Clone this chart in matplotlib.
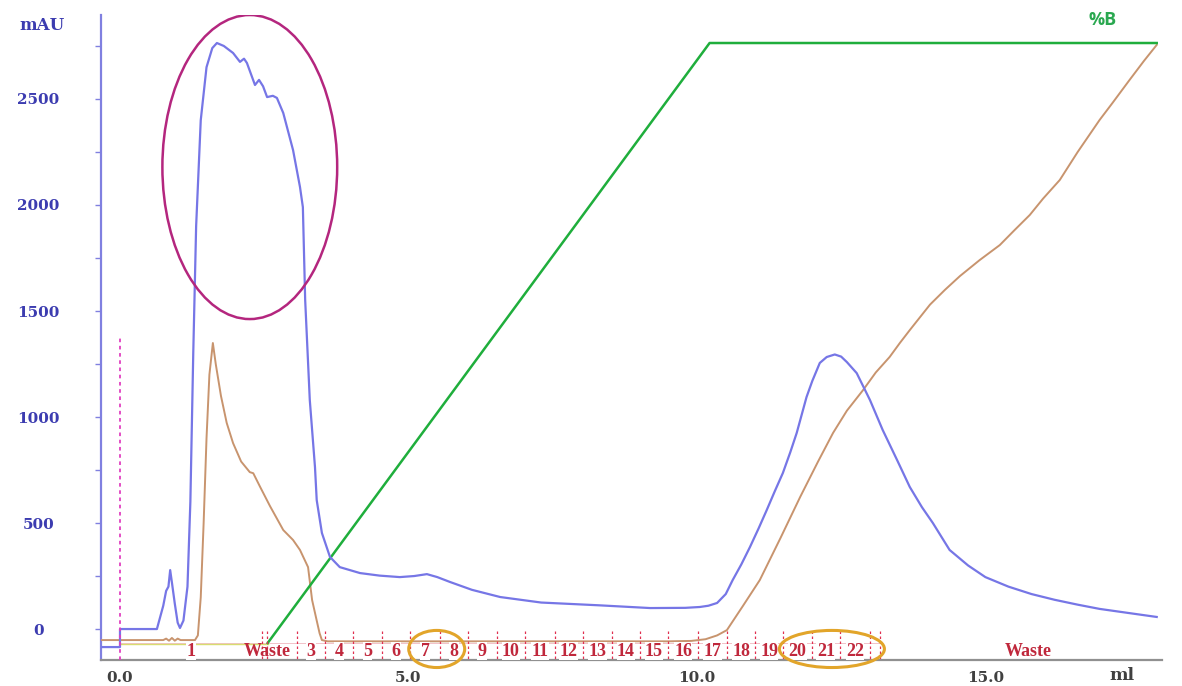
import matplotlib.pyplot as plt
from matplotlib.patches import Ellipse
from matplotlib.ticker import MultipleLocator
import numpy as np

# UV 280 nm trace (ml, mAU)
uv_ml = [-0.33, 0.0, 0.0, 0.64, 0.70, 0.75, 0.80, 0.84, 0.87, 0.90, 0.95, 1.00, 1.04, 1.10,
         1.17, 1.22, 1.27, 1.32, 1.40, 1.50, 1.60, 1.68, 1.80, 1.96, 2.08, 2.15, 2.20, 2.34,
         2.41, 2.48, 2.55, 2.65, 2.72, 2.83, 3.00, 3.12, 3.17, 3.21, 3.29, 3.38, 3.41, 3.50,
         3.64, 3.81, 4.16, 4.50, 4.85, 5.10, 5.32, 5.50, 5.72, 6.10, 6.59,
         7.30, 8.30, 9.19, 9.80, 10.05, 10.20, 10.35, 10.50, 10.62, 10.77, 10.92, 11.07, 11.21,
         11.35, 11.49, 11.62, 11.73, 11.90, 12.00, 12.13, 12.25, 12.39, 12.50, 12.60, 12.77,
         13.00, 13.22, 13.47, 13.69, 13.90, 14.09, 14.38, 14.70, 15.00, 15.40, 15.80, 16.20,
         16.60, 16.98, 17.50, 17.97]
uv_mau = [-85, -85, 0, 0, 60, 110, 180, 200, 278, 220, 120, 30, 5, 40,
          200, 600, 1300, 1900, 2400, 2650, 2740, 2764, 2750, 2717, 2675, 2690, 2670, 2566,
          2590, 2560, 2509, 2515, 2505, 2434, 2259, 2085, 1990, 1552, 1080, 764, 608, 453,
          340, 292, 264, 252, 245, 250, 259, 245, 222, 185, 151,
          125, 112, 99, 100, 104, 110, 123, 165, 231, 305, 387, 475, 561,
          650, 736, 835, 925, 1094, 1170, 1255, 1283, 1295, 1285, 1259, 1207,
          1080, 939, 797, 670, 575, 500, 373, 300, 245, 200, 165, 138,
          115, 95, 75, 57]

# conductivity trace, drawn on the same scale
cond_ml = [-0.33, 0.75, 0.80, 0.85, 0.90, 0.95, 1.00, 1.05, 1.30, 1.35, 1.40, 1.45, 1.50, 1.55,
           1.61, 1.66, 1.75, 1.85, 1.96, 2.10, 2.25, 2.31, 2.43, 2.60, 2.83, 3.00, 3.12,
           3.26, 3.33, 3.41, 3.46, 3.50, 3.60, 9.50, 9.90, 10.15, 10.35, 10.52, 10.80, 11.09,
           11.45, 11.79, 12.10, 12.36, 12.60, 12.88, 13.10, 13.34, 13.52, 13.69, 14.04,
           14.30, 14.56, 14.90, 15.25, 15.50, 15.77, 16.00, 16.29, 16.60, 16.98, 17.20,
           17.50, 17.75, 17.97]
cond_mau = [-52, -52, -45, -55, -42, -55, -45, -52, -52, -30, 150, 500, 900, 1200,
            1349, 1250, 1100, 972, 877, 790, 740, 735, 670, 580, 467, 420, 373,
            292, 137, 40, -20, -52, -58, -58, -56, -48, -30, -5, 110, 231,
            430, 623, 790, 925, 1030, 1127, 1210, 1283, 1350, 1410, 1530,
            1600, 1665, 1740, 1811, 1880, 1953, 2030, 2118, 2250, 2401, 2480,
            2590, 2680, 2755]

# gradient %B
grad_ml = [2.56, 10.22, 17.97]
grad_mau = [-66, 2764, 2764]

# fractions
frac_edges = [0.0, 2.46, 3.07, 3.55, 4.04, 4.54, 5.03, 5.55, 6.03, 6.53, 7.02, 7.54, 8.02,
              8.53, 9.01, 9.50, 10.02, 10.52, 11.01, 11.49, 11.99, 12.48, 13.00, 18.50]
frac_labels = ['1', 'Waste'] + [str(i) for i in range(3, 23)] + ['Waste']
extra_ticks = [2.55, 13.17]

serif = ['DejaVu Serif']
frac_font = ['Liberation Serif', 'DejaVu Serif']

fig = plt.figure(figsize=(11.82, 6.86), dpi=100)
ax = fig.add_axes([0.0854, 0.0379, 0.8976, 0.9402])
ax.set_xlim(-0.33, 18.06)
ax.set_ylim(-146, 2896)

ax.plot(uv_ml, uv_mau, color='#7676e6', lw=1.6, zorder=4)
ax.plot(cond_ml, cond_mau, color='#c8946e', lw=1.4, zorder=3)
ax.plot(grad_ml, grad_mau, color='#1fae3c', lw=1.8, zorder=3)
ax.plot([0.0, 2.56], [-72, -72], color='#d8dc70', lw=1.0, zorder=2)
fig.text(1103 / 1182, 1 - 20 / 686, '%B', color='#2aa850', fontsize=13, fontweight='bold',
         ha='center', va='center', family=['Open Sans', 'DejaVu Sans'])

# injection mark
ax.plot([0.0, 0.0], [-146, 1373], color='#e040c0', lw=1.3, ls=(0, (2, 2)), zorder=5)

# fraction ticks and labels
for x in frac_edges[1:-1] + extra_ticks:
    ax.plot([x, x], [-10, -146], color='#e03050', lw=0.9, ls=(0, (2, 2)), zorder=5)
ax.plot([0.0, 13.17], [-68, -68], color='#f0b8c0', lw=0.6, zorder=1)
for i, lab in enumerate(frac_labels):
    xm = (frac_edges[i] + frac_edges[i + 1]) / 2
    if lab == 'Waste' and i == 1:
        xm = 2.55
    ax.text(xm, -104, lab, color='#c0283c', fontsize=13, fontweight='bold',
            ha='center', va='center', family=frac_font, zorder=6,
            bbox=dict(facecolor='white', edgecolor='none', pad=0.3) if lab != 'Waste' else None)

# highlighted regions
ax.add_patch(Ellipse((2.25, 2179), 3.03, 1434, fill=False, ec='#b4267e', lw=1.8, zorder=6))
ax.add_patch(Ellipse((5.49, -94), 0.97, 175, fill=False, ec='#e2a52a', lw=2.2, zorder=6,
                     clip_on=False))
ax.add_patch(Ellipse((12.34, -94), 1.82, 175, fill=False, ec='#e2a52a', lw=2.2, zorder=6,
                     clip_on=False))

# axes styling
for s in ['top', 'right']:
    ax.spines[s].set_visible(False)
ax.spines['left'].set_color('#8080e0')
ax.spines['left'].set_linewidth(1.6)
ax.spines['bottom'].set_color('#909090')
ax.spines['bottom'].set_linewidth(1.6)

ax.set_yticks([0, 500, 1000, 1500, 2000, 2500])
ax.yaxis.set_minor_locator(MultipleLocator(250))
ax.tick_params(axis='y', which='both', colors='#8080e0', length=4, width=1, pad=41,
               labelcolor='#3c3cb0')
for lab in ax.get_yticklabels():
    lab.set_horizontalalignment('center')
ax.set_xticks([0, 5, 10, 15])
ax.set_xticklabels(['0.0', '5.0', '10.0', '15.0'])
ax.tick_params(axis='x', length=0, pad=8, labelcolor='#404040')
for lab in ax.get_xticklabels() + ax.get_yticklabels():
    lab.set_family(serif)
    lab.set_fontweight('bold')
    lab.set_fontsize(11)

fig.text(42 / 1182, 1 - 25 / 686, 'mAU', color='#3c3cb0', fontsize=12, fontweight='bold',
         ha='center', va='center', family=serif)
fig.text(1122 / 1182, 1 - 675 / 686, 'ml', color='#404040', fontsize=12.5, fontweight='bold',
         ha='center', va='center', family=serif)

fig.savefig('out.png', dpi=100, facecolor='white')
